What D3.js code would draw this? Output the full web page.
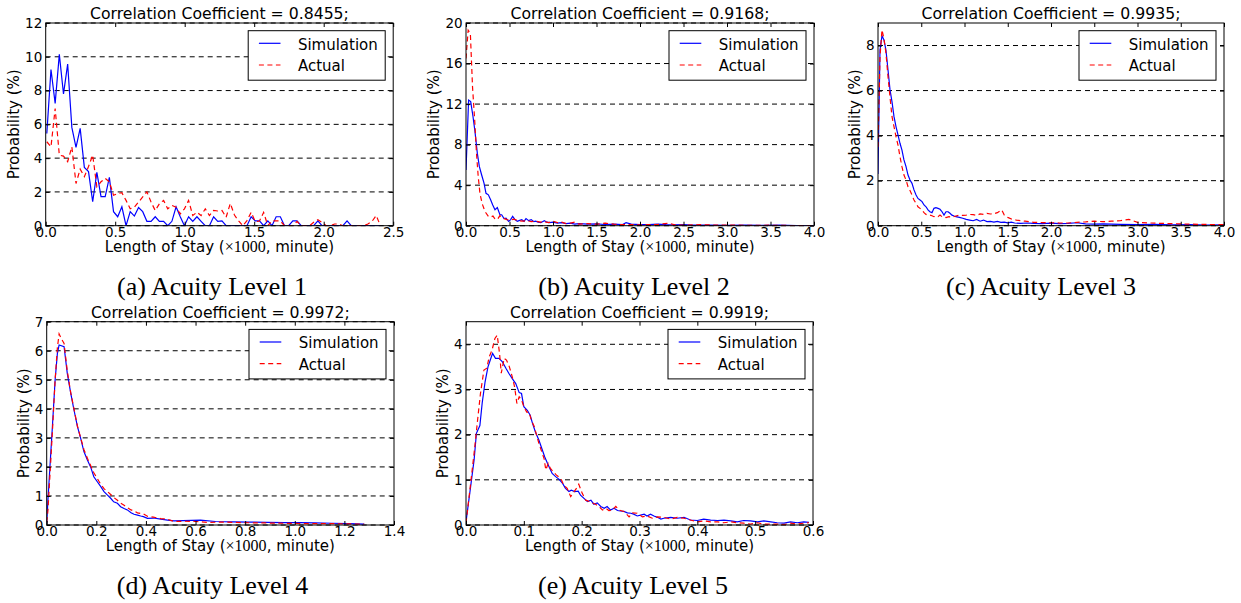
<!DOCTYPE html>
<html>
<head>
<meta charset="utf-8">
<script src="https://cdn.jsdelivr.net/npm/d3@7"></script>
<style>
body { margin: 0; background: #fff; }
svg { display: block; }
text { font-family: "DejaVu Sans", sans-serif; fill: #000; }
text.caption, tspan.math { font-family: "Liberation Serif", serif; }
</style>
</head>
<body>
<svg id="chart" width="1241" height="603"></svg>
<script>
const titles = ['Correlation Coefficient = 0.8455;', 'Correlation Coefficient = 0.9168;', 'Correlation Coefficient = 0.9935;', 'Correlation Coefficient = 0.9972;', 'Correlation Coefficient = 0.9919;']
const captions = ['(a) Acuity Level 1', '(b) Acuity Level 2', '(c) Acuity Level 3', '(d) Acuity Level 4', '(e) Acuity Level 5']
const seriesNames = ['Simulation', 'Actual']

const xTicksA = [0, 0.5, 1, 1.5, 2, 2.5]
const xTicksB = [0, 0.5, 1, 1.5, 2, 2.5, 3, 3.5, 4]
const xTicksC = [0, 0.5, 1, 1.5, 2, 2.5, 3, 3.5, 4]
const xTicksD = [0, 0.2, 0.4, 0.6, 0.8, 1.0, 1.2, 1.4]
const xTicksE = [0, 0.1, 0.2, 0.3, 0.4, 0.5, 0.6]
const yTicksA = [0, 2, 4, 6, 8, 10, 12]
const yTicksB = [0, 4, 8, 12, 16, 20]
const yTicksC = [0, 2, 4, 6, 8]
const yTicksD = [0, 1, 2, 3, 4, 5, 6, 7]
const yTicksE = [0, 1, 2, 3, 4]
const yMaxC = 9
const yMaxE = 4.5

// level 1 is a plain histogram: 30 minute bins
const binStartA = 0.008
const binWidthA = 0.03
const simA = [5.46, 9.25, 7.24, 10.14, 7.8, 9.57, 5.82, 4.63, 5.76, 3.45,
  3.2, 1.42, 3.16, 1.72, 1.72, 2.86, 0.83, 0.53, 1.12, 0,
  0.83, 0.57, 1.08, 0.83, 0.26, 0.26, 0.53, 0.26, 0.26, 0,
  0.26, 1.12, 0.53, 0, 0.53, 0.26, 0.53, 0.26, 0, 0,
  0.53, 0.26, 0.28, 0, 0, 0, 0, 0, 0, 0.53,
  0.28, 0.28, 0, 0.28, 0, 0.53, 0.53, 0, 0, 0.28,
  0.28, 0, 0, 0, 0, 0.28, 0, 0, 0, 0,
  0, 0, 0.28, 0, 0, 0, 0, 0, 0, 0,
  0]
const actA = [4.97, 4.67, 6.94, 4.18, 4.12, 3.79, 4.67, 2.5, 3.35, 2.9,
  3.5, 4.18, 2.3, 2.6, 2.8, 2.6, 1.8, 1.9, 1.95, 1.5,
  1.0, 1.1, 1.4, 1.7, 2.0, 1.4, 0.9, 1.3, 1.5, 1.0,
  1.2, 1.1, 0.7, 1.0, 1.5, 0.6, 0.8, 0.6, 1.0, 0.6,
  0.9, 0.87, 0.9, 0.5, 1.32, 0.63, 0.28, 0, 0.3, 0.79,
  0.24, 0.28, 0.79, 0, 0.28, 0.28, 0.28, 0, 0, 0,
  0.25, 0, 0, 0, 0.2, 0.35, 0.2, 0, 0, 0.1,
  0.1, 0, 0, 0, 0, 0, 0, 0.1, 0.26, 0.6,
  0]

const simB = [[0, 5.5], [0.03, 12.4], [0.054, 12.25], [0.08, 10.8], [0.103, 9.3], [0.13, 7.16], [0.153, 5.85], [0.18, 5.0],
  [0.207, 4.2], [0.23, 3.2], [0.257, 3.05], [0.283, 2.56], [0.306, 2.07], [0.333, 1.58], [0.36, 1.8], [0.39, 1.08],
  [0.41, 1.08], [0.437, 0.7], [0.46, 0.75], [0.49, 0.43], [0.513, 0.6], [0.536, 0.92], [0.563, 0.6], [0.59, 0.43],
  [0.61, 0.5], [0.64, 0.6], [0.667, 0.43], [0.69, 0.7], [0.72, 0.5], [0.75, 0.6], [0.78, 0.4], [0.8, 0.45],
  [0.83, 0.35], [0.86, 0.3], [0.9, 0.5], [0.93, 0.35], [0.96, 0.3], [1.0, 0.35], [1.05, 0.25], [1.1, 0.3],
  [1.15, 0.2], [1.2, 0.25], [1.25, 0.15], [1.3, 0.2], [1.4, 0.15], [1.5, 0.18], [1.6, 0.12], [1.7, 0.15],
  [1.8, 0.12], [1.84, 0.3], [1.9, 0.15], [2.0, 0.1], [2.1, 0.12], [2.2, 0.15], [2.3, 0.1], [2.4, 0.08],
  [2.5, 0.1], [2.6, 0.05], [2.8, 0.06], [3.0, 0.04], [3.2, 0.05], [3.4, 0.03], [3.6, 0.05], [3.8, 0.02], [4.0, 0.02]]
const actB = [[0, 16.5], [0.025, 19.3], [0.05, 19.0], [0.075, 13.7], [0.1, 10.4], [0.12, 7.2], [0.14, 4.9], [0.16, 3.2],
  [0.185, 2.2], [0.21, 1.6], [0.23, 1.25], [0.257, 0.92], [0.28, 0.85], [0.31, 0.95], [0.33, 0.7], [0.36, 0.6],
  [0.39, 1.0], [0.41, 0.8], [0.44, 0.7], [0.47, 0.6], [0.5, 0.55], [0.55, 0.65], [0.6, 0.5], [0.65, 0.45],
  [0.7, 0.5], [0.75, 0.4], [0.8, 0.45], [0.85, 0.35], [0.9, 0.4], [0.95, 0.3], [1.0, 0.45], [1.05, 0.3],
  [1.1, 0.35], [1.15, 0.2], [1.2, 0.25], [1.25, 0.35], [1.3, 0.15], [1.4, 0.2], [1.5, 0.15], [1.6, 0.25],
  [1.7, 0.15], [1.8, 0.1], [1.9, 0.12], [2.0, 0.08], [2.1, 0.1], [2.2, 0.12], [2.33, 0.25], [2.4, 0.08],
  [2.5, 0.05], [2.7, 0.1], [2.9, 0.05], [3.1, 0.06], [3.3, 0.03], [3.5, 0.05], [3.7, 0.02], [4.0, 0.02]]

const simC = [[0, 2.3], [0.023, 7.8], [0.046, 8.43], [0.069, 8.25], [0.092, 7.8], [0.116, 6.9], [0.139, 6.03], [0.162, 5.5],
  [0.185, 4.84], [0.208, 4.4], [0.231, 4.03], [0.254, 3.66], [0.277, 3.36], [0.3, 2.92], [0.324, 2.62], [0.347, 2.25],
  [0.37, 2.03], [0.393, 1.88], [0.416, 1.59], [0.44, 1.36], [0.462, 1.21], [0.486, 1.14], [0.509, 1.07], [0.532, 0.92],
  [0.555, 0.84], [0.578, 0.7], [0.6, 0.62], [0.624, 0.58], [0.647, 0.77], [0.67, 0.8], [0.694, 0.77], [0.717, 0.73],
  [0.74, 0.62], [0.763, 0.47], [0.786, 0.62], [0.81, 0.62], [0.832, 0.55], [0.855, 0.47], [0.879, 0.43], [0.9, 0.4],
  [0.94, 0.37], [0.98, 0.33], [1.02, 0.28], [1.06, 0.25], [1.1, 0.22], [1.14, 0.28], [1.18, 0.2], [1.22, 0.25],
  [1.26, 0.18], [1.3, 0.19], [1.34, 0.16], [1.38, 0.19], [1.42, 0.15], [1.46, 0.16], [1.5, 0.13], [1.54, 0.16],
  [1.58, 0.12], [1.65, 0.1], [1.72, 0.12], [1.8, 0.1], [1.9, 0.09], [2.0, 0.11], [2.1, 0.09], [2.2, 0.1],
  [2.3, 0.13], [2.4, 0.08], [2.5, 0.07], [2.6, 0.08], [2.8, 0.06], [3.0, 0.05], [3.2, 0.06], [3.4, 0.04],
  [3.6, 0.05], [3.8, 0.03], [4.0, 0.04]]
const actC = [[0, 3.5], [0.023, 7.5], [0.046, 8.7], [0.069, 8.3], [0.092, 7.66], [0.116, 6.6], [0.139, 5.7], [0.162, 4.84],
  [0.185, 4.4], [0.208, 3.96], [0.231, 3.58], [0.254, 3.07], [0.277, 2.62], [0.3, 2.25], [0.324, 2.03], [0.347, 1.73],
  [0.37, 1.56], [0.393, 1.36], [0.416, 1.14], [0.44, 0.99], [0.462, 0.84], [0.486, 0.77], [0.509, 0.7], [0.532, 0.58],
  [0.555, 0.5], [0.578, 0.47], [0.6, 0.47], [0.624, 0.44], [0.647, 0.4], [0.67, 0.43], [0.694, 0.4], [0.717, 0.47],
  [0.74, 0.4], [0.786, 0.36], [0.82, 0.4], [0.86, 0.38], [0.9, 0.43], [0.94, 0.47], [0.98, 0.46], [1.02, 0.47],
  [1.06, 0.5], [1.1, 0.49], [1.14, 0.46], [1.18, 0.52], [1.22, 0.5], [1.26, 0.55], [1.3, 0.52], [1.34, 0.53],
  [1.38, 0.58], [1.43, 0.7], [1.46, 0.47], [1.5, 0.37], [1.55, 0.28], [1.6, 0.25], [1.7, 0.2], [1.8, 0.15],
  [1.9, 0.14], [2.0, 0.13], [2.1, 0.12], [2.2, 0.12], [2.3, 0.15], [2.4, 0.17], [2.5, 0.2], [2.6, 0.18],
  [2.7, 0.2], [2.8, 0.22], [2.9, 0.28], [3.0, 0.15], [3.15, 0.12], [3.3, 0.1], [3.5, 0.08], [3.7, 0.06],
  [3.9, 0.05], [4.0, 0.05]]

const simD = [[0, 0.05], [0.005, 0.86], [0.013, 2.0], [0.023, 3.39], [0.034, 5.0], [0.043, 5.9], [0.05, 6.2], [0.07, 6.14],
  [0.083, 5.22], [0.097, 4.53], [0.11, 3.96], [0.124, 3.39], [0.137, 2.98], [0.15, 2.53], [0.164, 2.24], [0.177, 2.0],
  [0.19, 1.66], [0.204, 1.49], [0.218, 1.32], [0.231, 1.15], [0.245, 1.03], [0.258, 0.92], [0.27, 0.8], [0.285, 0.75],
  [0.298, 0.63], [0.312, 0.57], [0.325, 0.52], [0.34, 0.42], [0.352, 0.37], [0.366, 0.34], [0.379, 0.31], [0.39, 0.29],
  [0.406, 0.23], [0.43, 0.24], [0.46, 0.2], [0.487, 0.17], [0.513, 0.14], [0.55, 0.15], [0.62, 0.17], [0.68, 0.12],
  [0.75, 0.11], [0.82, 0.1], [0.89, 0.09], [0.96, 0.08], [1.02, 0.08], [1.08, 0.07], [1.15, 0.06], [1.22, 0.05], [1.28, 0.03]]
const actD = [[0, 0.1], [0.005, 0.5], [0.013, 1.7], [0.023, 3.2], [0.034, 5.0], [0.043, 6.1], [0.05, 6.58], [0.06, 6.4],
  [0.07, 6.25], [0.083, 5.3], [0.097, 4.55], [0.11, 4.0], [0.124, 3.4], [0.137, 3.0], [0.15, 2.6], [0.164, 2.3],
  [0.177, 2.05], [0.19, 1.8], [0.204, 1.6], [0.218, 1.4], [0.231, 1.25], [0.245, 1.15], [0.258, 1.05], [0.27, 0.95],
  [0.285, 0.85], [0.298, 0.75], [0.312, 0.68], [0.325, 0.6], [0.34, 0.52], [0.352, 0.48], [0.366, 0.42], [0.379, 0.4],
  [0.39, 0.38], [0.406, 0.3], [0.43, 0.27], [0.46, 0.22], [0.487, 0.2], [0.513, 0.12], [0.55, 0.13], [0.6, 0.12],
  [0.65, 0.09], [0.72, 0.1], [0.8, 0.08], [0.88, 0.07], [0.96, 0.06], [1.04, 0.05], [1.12, 0.05], [1.2, 0.04], [1.28, 0.03]]

const simE = [[0, 0.07], [0.008, 0.85], [0.014, 1.44], [0.018, 2.03], [0.024, 2.2], [0.028, 2.7], [0.033, 3.17], [0.038, 3.5],
  [0.043, 3.69], [0.046, 3.8], [0.051, 3.69], [0.057, 3.69], [0.063, 3.61], [0.069, 3.47], [0.074, 3.36], [0.08, 3.24],
  [0.086, 3.13], [0.092, 2.93], [0.096, 2.91], [0.1, 2.62], [0.106, 2.54], [0.111, 2.43], [0.115, 2.25], [0.12, 2.06],
  [0.126, 1.88], [0.132, 1.66], [0.136, 1.51], [0.141, 1.36], [0.145, 1.25], [0.149, 1.14], [0.155, 1.07], [0.161, 1.01],
  [0.167, 0.92], [0.172, 0.81], [0.178, 0.74], [0.182, 0.77], [0.188, 0.74], [0.194, 0.75], [0.198, 0.66], [0.204, 0.59],
  [0.21, 0.52], [0.216, 0.55], [0.221, 0.46], [0.227, 0.49], [0.233, 0.41], [0.239, 0.37], [0.244, 0.41], [0.25, 0.33],
  [0.256, 0.37], [0.262, 0.32], [0.267, 0.31], [0.273, 0.3], [0.279, 0.27], [0.285, 0.26], [0.29, 0.24], [0.296, 0.2],
  [0.302, 0.22], [0.308, 0.24], [0.313, 0.2], [0.319, 0.24], [0.325, 0.2], [0.331, 0.17], [0.337, 0.13], [0.342, 0.15],
  [0.354, 0.17], [0.365, 0.15], [0.377, 0.17], [0.388, 0.11], [0.4, 0.1], [0.411, 0.13], [0.423, 0.11], [0.435, 0.1],
  [0.446, 0.11], [0.458, 0.09], [0.469, 0.07], [0.48, 0.1], [0.492, 0.09], [0.504, 0.07], [0.515, 0.09], [0.527, 0.07],
  [0.538, 0.05], [0.55, 0.04], [0.561, 0.07], [0.573, 0.05], [0.584, 0.07], [0.593, 0.06]]
const actE = [[0, 0.04], [0.008, 0.92], [0.014, 1.59], [0.02, 2.32], [0.025, 2.91], [0.031, 3.43], [0.036, 3.47], [0.04, 3.72],
  [0.045, 3.87], [0.05, 4.13], [0.054, 4.2], [0.058, 3.8], [0.061, 3.36], [0.066, 3.69], [0.07, 3.65], [0.075, 3.5],
  [0.08, 3.28], [0.084, 3.06], [0.088, 2.69], [0.092, 2.84], [0.096, 2.77], [0.1, 2.62], [0.105, 2.5], [0.109, 2.5],
  [0.113, 2.32], [0.118, 2.18], [0.122, 1.99], [0.126, 1.81], [0.131, 1.62], [0.135, 1.47], [0.138, 1.22], [0.142, 1.36],
  [0.146, 1.25], [0.151, 1.18], [0.156, 1.11], [0.16, 1.07], [0.165, 1.0], [0.169, 0.88], [0.175, 0.81], [0.181, 0.63],
  [0.187, 0.74], [0.193, 0.85], [0.195, 0.9], [0.201, 0.7], [0.207, 0.55], [0.213, 0.52], [0.218, 0.49], [0.224, 0.46],
  [0.23, 0.41], [0.236, 0.33], [0.242, 0.37], [0.247, 0.32], [0.253, 0.33], [0.259, 0.41], [0.265, 0.33], [0.273, 0.3],
  [0.282, 0.18], [0.288, 0.27], [0.296, 0.26], [0.305, 0.18], [0.313, 0.2], [0.322, 0.15], [0.331, 0.18], [0.342, 0.17],
  [0.354, 0.13], [0.365, 0.17], [0.377, 0.15], [0.388, 0.11], [0.4, 0.07], [0.411, 0.09], [0.423, 0.07], [0.435, 0.07],
  [0.446, 0.05], [0.458, 0.07], [0.469, 0.05], [0.48, 0.04], [0.492, 0.02], [0.504, 0.05], [0.515, 0.02], [0.527, 0.02],
  [0.538, 0.02], [0.55, 0.01], [0.561, 0.04], [0.573, 0.02], [0.584, 0.04], [0.593, 0.05]]

const svg = d3.select('#chart')

const histA = ys => ys.map((v, i) => [binStartA + i * binWidthA, v])

const panels = [
  { left: 45.7, right: 393.2, top: 23, bottom: 225.7, xMax: 2.5, xTicks: xTicksA, yMax: 12, yTicks: yTicksA, sim: histA(simA), act: histA(actA), capX: 212, capY: 295 },
  { left: 466, right: 814, top: 23, bottom: 225.7, xMax: 4, xTicks: xTicksB, yMax: 20, yTicks: yTicksB, sim: simB, act: actB, capX: 634, capY: 295 },
  { left: 878, right: 1224, top: 23, bottom: 225.7, xMax: 4, xTicks: xTicksC, yMax: yMaxC, yTicks: yTicksC, sim: simC, act: actC, capX: 1041, capY: 295 },
  { left: 46.7, right: 394, top: 321.7, bottom: 525, xMax: 1.4, xTicks: xTicksD, yMax: 7, yTicks: yTicksD, sim: simD, act: actD, capX: 212.5, capY: 594 },
  { left: 466, right: 813, top: 321.7, bottom: 525, xMax: 0.6, xTicks: xTicksE, yMax: yMaxE, yTicks: yTicksE, sim: simE, act: actE, capX: 633, capY: 594 }
]

const defs = svg.append('defs')

panels.forEach((p, k) => {

  const x = d3.scaleLinear().domain([0, p.xMax]).range([p.left, p.right])
  const y = d3.scaleLinear().domain([0, p.yMax]).range([p.bottom, p.top])
  const g = svg.append('g')

  defs.append('clipPath')
  .attr('id', 'clip' + k)
  .append('rect')
  .attr('x', p.left)
  .attr('y', p.top)
  .attr('width', p.right - p.left)
  .attr('height', p.bottom - p.top)

  // dashed grid on the y ticks
  g.append('g')
  .selectAll('line')
  .data(p.yTicks)
  .join('line')
  .attr('x1', p.left)
  .attr('x2', p.right)
  .attr('y1', d => y(d))
  .attr('y2', d => y(d))
  .attr('stroke', '#000')
  .attr('stroke-width', 1)
  .attr('stroke-dasharray', '5,4')

  const line = d3.line()
  .x(d => x(d[0]))
  .y(d => y(d[1]))

  const lines = g.append('g').attr('clip-path', 'url(#clip' + k + ')')

  lines.append('path')
  .attr('d', line(p.sim))
  .attr('fill', 'none')
  .attr('stroke', '#0000ff')
  .attr('stroke-width', 1.2)

  lines.append('path')
  .attr('d', line(p.act))
  .attr('fill', 'none')
  .attr('stroke', '#ff0000')
  .attr('stroke-width', 1.2)
  .attr('stroke-dasharray', '5,3.5')

  // axes, ticks pointing inward on all four sides
  const fmtX = d3.format('.1f')

  g.append('g')
  .attr('transform', 'translate(0,' + p.bottom + ')')
  .call(d3.axisBottom(x).tickValues(p.xTicks).tickFormat(fmtX).tickSizeInner(-4).tickSizeOuter(0).tickPadding(1.5))

  const yAxis = g.append('g')
  .attr('transform', 'translate(' + p.left + ',0)')
  .call(d3.axisLeft(y).tickValues(p.yTicks).tickFormat(d3.format('d')).tickSizeInner(-4).tickSizeOuter(0).tickPadding(3.4))

  g.append('g')
  .attr('transform', 'translate(0,' + p.top + ')')
  .call(d3.axisTop(x).tickValues(p.xTicks).tickFormat('').tickSizeInner(-4).tickSizeOuter(0))

  g.append('g')
  .attr('transform', 'translate(' + p.right + ',0)')
  .call(d3.axisRight(y).tickValues(p.yTicks).tickFormat('').tickSizeInner(-4).tickSizeOuter(0))

  g.selectAll('.domain').remove()
  g.selectAll('.tick line').attr('stroke', '#000')
  g.selectAll('.tick text')
  .attr('font-size', 13.5)

  g.append('rect')
  .attr('x', p.left)
  .attr('y', p.top)
  .attr('width', p.right - p.left)
  .attr('height', p.bottom - p.top)
  .attr('fill', 'none')
  .attr('stroke', '#000')
  .attr('stroke-width', 1)

  // title
  g.append('text')
  .attr('x', (p.left + p.right) / 2)
  .attr('y', p.top - 3.8)
  .attr('text-anchor', 'middle')
  .attr('font-size', 15.7)
  .text(titles[k])

  // x label, the x1000 part is set in a serif face like the math text
  const xl = g.append('text')
  .attr('x', (p.left + p.right) / 2)
  .attr('y', p.bottom + 26)
  .attr('text-anchor', 'middle')
  .attr('font-size', 15)
  xl.append('tspan').text('Length of Stay (')
  xl.append('tspan').attr('class', 'math').attr('font-size', 16).text('\u00d71000')
  xl.append('tspan').text(', minute)')

  // y label sits left of the widest tick label
  let maxw = 0
  yAxis.selectAll('.tick text').each(function() { maxw = Math.max(maxw, this.getComputedTextLength()) })

  const ylx = p.left - maxw - 9.5
  g.append('text')
  .attr('transform', 'translate(' + ylx + ',' + (p.top + p.bottom) / 2 + ') rotate(-90)')
  .attr('text-anchor', 'middle')
  .attr('font-size', 15)
  .text('Probability (%)')

  // legend
  const lw = 137, lh = 49.5
  const lx = p.right - 8 - lw
  const ly = p.top + 7.7
  const leg = g.append('g').attr('transform', 'translate(' + lx + ',' + ly + ')')

  leg.append('rect')
  .attr('width', lw)
  .attr('height', lh)
  .attr('fill', '#fff')
  .attr('stroke', '#000')
  .attr('stroke-width', 1)

  seriesNames.forEach((name, i) => {
    const cy = 12.6 + i * 21.7
    leg.append('line')
    .attr('x1', 10.7)
    .attr('x2', 32.3)
    .attr('y1', cy)
    .attr('y2', cy)
    .attr('stroke', i == 0 ? '#0000ff' : '#ff0000')
    .attr('stroke-width', 1.2)
    .attr('stroke-dasharray', i == 0 ? null : '5,3.5')

    leg.append('text')
    .attr('x', 49.7)
    .attr('y', cy + 6.3)
    .attr('font-size', 15)
    .text(name)
  })

  // sub-figure caption
  svg.append('text')
  .attr('class', 'caption')
  .attr('x', p.capX)
  .attr('y', p.capY)
  .attr('text-anchor', 'middle')
  .attr('font-size', 26)
  .text(captions[k])
})
</script>
</body>
</html>
